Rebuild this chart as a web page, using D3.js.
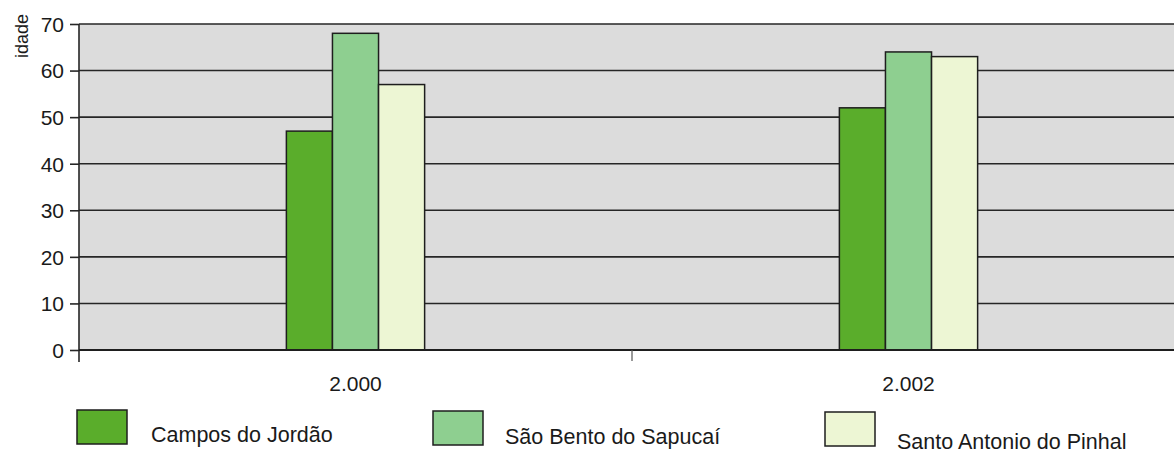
<!DOCTYPE html>
<html>
<head>
<meta charset="utf-8">
<script src="https://cdn.jsdelivr.net/npm/d3@7"></script>
<style>
  html, body { margin: 0; padding: 0; background: #ffffff; }
  svg { display: block; font-family: "Liberation Sans", Arial, Helvetica, sans-serif; }
</style>
</head>
<body>
<svg id="chart" width="1174" height="453"></svg>
<script>
// Anos e municípios
const years = ["2.000", "2.002"];
const towns = ["Campos do Jordão", "São Bento do Sapucaí", "Santo Antonio do Pinhal"];

// Idade por município, na ordem dos anos
const camposDoJordao = [47, 52];
const saoBentoDoSapucai = [68, 64];
const santoAntonioDoPinhal = [57, 63];

const yTicks = [0, 10, 20, 30, 40, 50, 60, 70];
const yLabel = "idade";

const seriesValues = [camposDoJordao, saoBentoDoSapucai, santoAntonioDoPinhal];
const colors = ["#5aad2b", "#8ecf90", "#edf6d4"];

const svg = d3.select("#chart");
const plotLeft = 79, plotTop = 24, plotBottom = 350, plotRight = 1185;

const x0 = d3.scaleBand().domain(years).range([plotLeft, plotRight]).padding(0);
const groupWidth = x0.bandwidth() * 0.25;
const x1 = d3.scaleBand().domain(towns).range([0, groupWidth]).padding(0);
const y = d3.scaleLinear().domain([0, 70]).range([plotBottom, plotTop]);

// plot background
svg.append("rect")
  .attr("x", plotLeft).attr("y", plotTop)
  .attr("width", plotRight - plotLeft).attr("height", plotBottom - plotTop)
  .attr("fill", "#dcdcdc");

// horizontal grid lines
svg.append("g")
  .selectAll("line")
  .data(yTicks)
  .join("line")
  .attr("x1", plotLeft).attr("x2", plotRight)
  .attr("y1", d => y(d)).attr("y2", d => y(d))
  .attr("stroke", "#262626")
  .attr("stroke-width", 1.6);

// bars
const rows = [];
years.forEach((yr, i) => {
  towns.forEach((t, j) => rows.push({ year: yr, town: t, value: seriesValues[j][i], color: colors[j] }));
});
svg.append("g")
  .selectAll("rect")
  .data(rows)
  .join("rect")
  .attr("x", d => x0(d.year) + (x0.bandwidth() - groupWidth) / 2 + x1(d.town))
  .attr("y", d => y(d.value))
  .attr("width", x1.bandwidth())
  .attr("height", d => y(0) - y(d.value))
  .attr("fill", d => d.color)
  .attr("stroke", "#1e1e1e")
  .attr("stroke-width", 1.5);

// y axis
const yAxis = d3.axisLeft(y).tickValues(yTicks).tickSize(9).tickPadding(6).tickSizeOuter(0);
const gy = svg.append("g").attr("transform", `translate(${plotLeft},0)`).call(yAxis);
gy.select(".domain").remove();
gy.selectAll(".tick line").attr("stroke", "#262626").attr("stroke-width", 1.6);
gy.selectAll(".tick text")
  .attr("fill", "#1a1a1a")
  .style("font-size", "21px")
  .attr("dy", "0.35em");
svg.append("line")
  .attr("x1", plotLeft).attr("x2", plotLeft)
  .attr("y1", plotTop).attr("y2", plotBottom + 12)
  .attr("stroke", "#262626").attr("stroke-width", 1.6);

// x axis: category labels and boundary ticks
const xAxis = d3.axisBottom(x0).tickSize(0).tickPadding(26);
const gx = svg.append("g").attr("transform", `translate(0,${plotBottom})`).call(xAxis);
gx.select(".domain").remove();
gx.selectAll(".tick text")
  .attr("fill", "#1a1a1a")
  .style("font-size", "21px");
svg.append("line")
  .attr("x1", plotLeft).attr("x2", plotRight)
  .attr("y1", plotBottom).attr("y2", plotBottom)
  .attr("stroke", "#1e1e1e").attr("stroke-width", 2);
svg.append("g")
  .selectAll("line")
  .data(years.slice(1))
  .join("line")
  .attr("x1", d => x0(d)).attr("x2", d => x0(d))
  .attr("y1", plotBottom).attr("y2", plotBottom + 11)
  .attr("stroke", "#555").attr("stroke-width", 1.2);

// y label
svg.append("text")
  .attr("transform", `translate(28,${36})rotate(-90)`)
  .attr("text-anchor", "middle")
  .attr("fill", "#1a1a1a")
  .style("font-size", "18px")
  .text(yLabel);

// legend
const legendPos = [
  { sx: 77, sy: 410, tx: 151, ty: 442 },
  { sx: 433, sy: 411, tx: 505, ty: 444 },
  { sx: 825, sy: 412, tx: 897, ty: 449 }
];
const lg = svg.append("g")
  .selectAll("g")
  .data(towns)
  .join("g");
lg.append("rect")
  .attr("x", (d, i) => legendPos[i].sx)
  .attr("y", (d, i) => legendPos[i].sy)
  .attr("width", 50).attr("height", 34)
  .attr("fill", (d, i) => colors[i])
  .attr("stroke", "#1e1e1e").attr("stroke-width", 1.5);
lg.append("text")
  .attr("x", (d, i) => legendPos[i].tx)
  .attr("y", (d, i) => legendPos[i].ty)
  .attr("fill", "#1a1a1a")
  .style("font-size", "21.5px")
  .text(d => d);
</script>
</body>
</html>
